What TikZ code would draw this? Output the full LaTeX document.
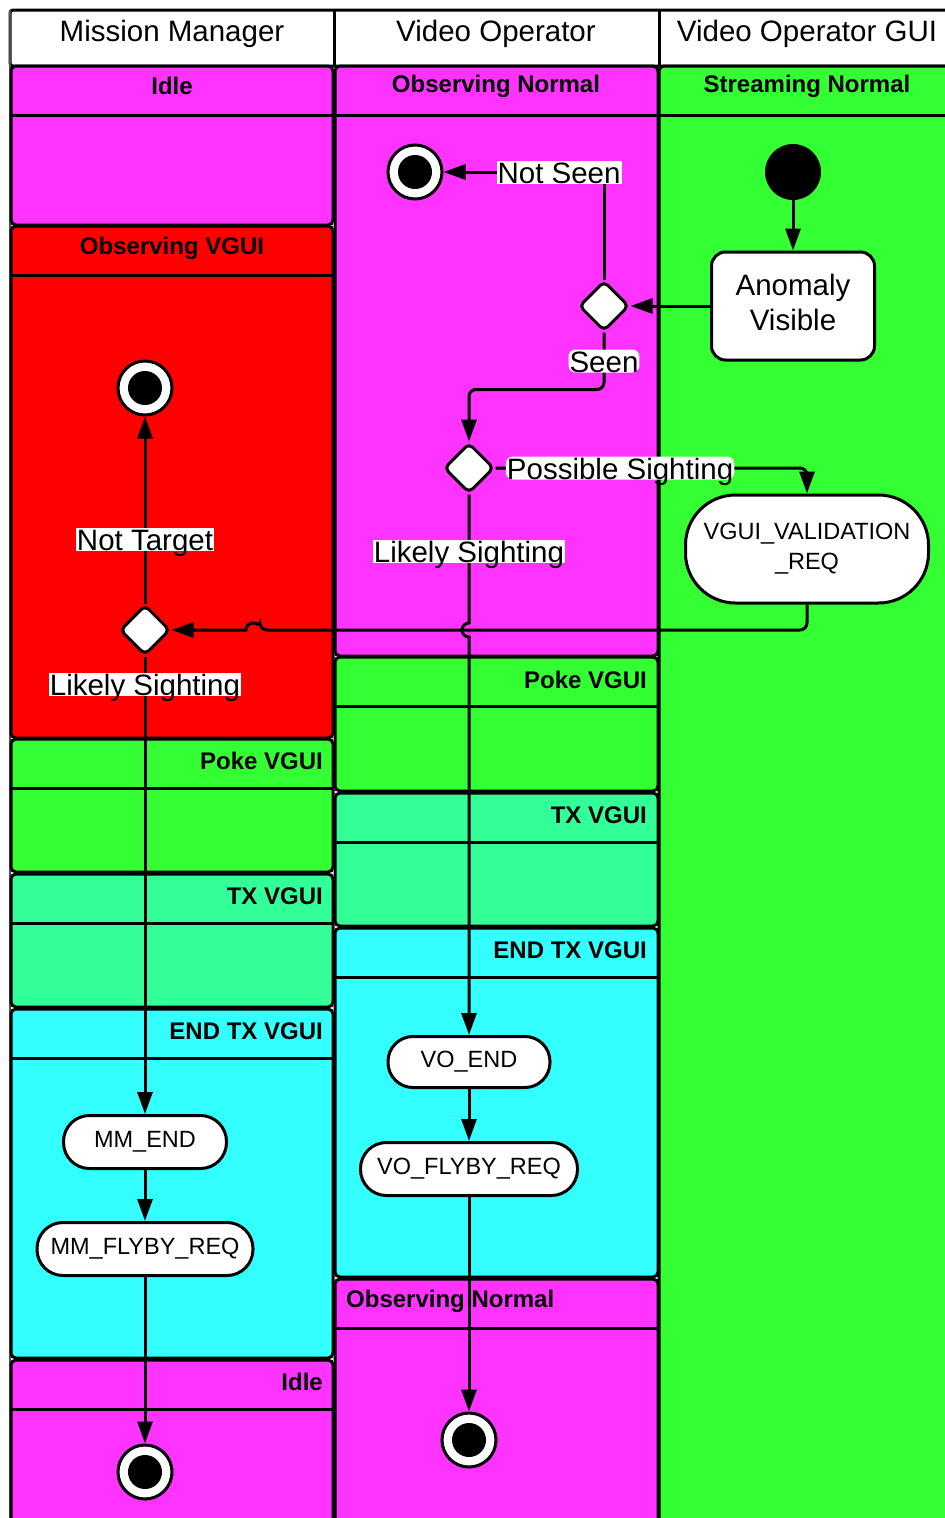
\documentclass[tikz,border=0pt]{standalone}
\usepackage{fontspec}
\setmainfont{Liberation Sans}
\usetikzlibrary{shapes.geometric,arrows.meta}

\definecolor{magentaS}{HTML}{FF33FF}
\definecolor{redS}{HTML}{FF0000}
\definecolor{greenS}{HTML}{33FF33}
\definecolor{springS}{HTML}{33FF99}
\definecolor{cyanS}{HTML}{33FFFF}

% one state band inside a lane: x1, y1, x2, y2, fill colour
\newcommand{\lanestate}[5]{%
  \draw[stateframe, fill=#5] (#1,#2) rectangle (#3,#4);
  \draw[line width=3pt] (#1,#2+49) -- (#3,#2+49);
}

\begin{document}
\begin{tikzpicture}[x=1pt,y=-1pt,
  stateframe/.style={draw=black, line width=3pt, rounded corners=5pt},
  lanetitle/.style={font=\fontsize{29.5}{34}\selectfont, inner sep=0pt},
  statelbl/.style={font=\bfseries\fontsize{24}{28}\selectfont, inner sep=0pt},
  flow/.style={draw=black, line width=3pt, -{Triangle[length=22pt,width=15pt]}},
  edgelbl/.style={fill=white, font=\fontsize{29.5}{34}\selectfont, inner xsep=1pt, inner ysep=0pt, text height=22.5pt, text depth=0.5pt},
  decision/.style={diamond, draw=black, fill=white, line width=3pt, minimum width=50pt, minimum height=50pt, inner sep=0pt, rounded corners=5pt},
  finalst/.style={circle, draw=black, fill=white, line width=3pt, minimum size=54pt, inner sep=0pt,
    path picture={\fill[black] (path picture bounding box.center) circle (17pt);}},
  initst/.style={circle, fill=black, minimum size=56pt, inner sep=0pt},
  action/.style={draw=black, fill=white, line width=3pt, inner sep=0pt, align=center},
  pill/.style={action, rounded corners=26pt, font=\fontsize{23.5}{28}\selectfont, minimum height=53pt}
]
\useasboundingbox (0,0) rectangle (945,1518);
\clip (0,0) rectangle (945,1518);

% lane headers
\draw[line width=3pt, fill=white, rounded corners=3pt] (10,10) rectangle (1000,66);
\draw[line width=3pt] (334,10) -- (334,66);
\draw[line width=3pt] (659,10) -- (659,66);
\node[lanetitle] (hmm) at (172,34) {Mission Manager};
\node[lanetitle] (hvo) at (496,34) {Video Operator};
\node[lanetitle] (hgui) at (807,34) {Video Operator GUI};

% lane frames
\draw[line width=1.8pt, draw=black!70] (10,10) -- (10,1600);

% Mission Manager lane
\lanestate{11}{66}{333}{225}{magentaS}
\node[statelbl] (mm1) at (172,86) {Idle};
\lanestate{11}{226}{333}{738}{redS}
\node[statelbl] (mm2) at (172,248) {Observing VGUI};
\lanestate{11}{739}{333}{872}{greenS}
\node[statelbl, anchor=east] (mm3) at (323,761) {Poke VGUI};
\lanestate{11}{874}{333}{1007}{springS}
\node[statelbl, anchor=east] (mm4) at (323,896) {TX VGUI};
\lanestate{11}{1009}{333}{1358}{cyanS}
\node[statelbl, anchor=east] (mm5) at (323,1031) {END TX VGUI};
\lanestate{11}{1360}{333}{1600}{magentaS}
\node[statelbl, anchor=east] (mm6) at (323,1382) {Idle};

% Video Operator lane
\lanestate{335}{66}{658}{656}{magentaS}
\node[statelbl] (vo1) at (496,86) {Observing Normal};
\lanestate{335}{657}{658}{791}{greenS}
\node[statelbl, anchor=east] (vo2) at (647,680) {Poke VGUI};
\lanestate{335}{793}{658}{926}{springS}
\node[statelbl, anchor=east] (vo3) at (647,815) {TX VGUI};
\lanestate{335}{928}{658}{1277}{cyanS}
\node[statelbl, anchor=east] (vo4) at (647,950) {END TX VGUI};
\lanestate{335}{1279}{658}{1600}{magentaS}
\node[statelbl, anchor=west] (vo5) at (346,1301) {Observing Normal};

% Video Operator GUI lane
\lanestate{659}{66}{1000}{1600}{greenS}
\node[statelbl] (gui1) at (807,86) {Streaming Normal};

% activity nodes
\node[initst] (init) at (793,172) {};
\node[action, rounded corners=14pt, minimum width=163pt, minimum height=108pt] (anom) at (793,306) {};
\node[font=\fontsize{29.5}{35}\selectfont, align=center, inner sep=0pt] (anomtxt) at (793,302) {Anomaly\\Visible};
\node[decision] (dec1) at (604,306) {};
\node[finalst] (fin1) at (415,172) {};
\node[decision] (dec2) at (469,468) {};
\node[action, rounded corners=50pt, minimum width=243pt, minimum height=108pt,
      font=\fontsize{23.5}{30}\selectfont] (vgui) at (807,549) {VGUI\_VALIDATION\\\_REQ};
\node[decision] (dec3) at (145,630) {};
\node[finalst] (fin2) at (145,388) {};
\node[pill, minimum width=163pt] (mmend) at (145,1142) {MM\_END};
\node[pill, minimum width=216pt] (mmfly) at (145,1249) {MM\_FLYBY\_REQ};
\node[finalst] (fin4) at (145,1472) {};
\node[pill, minimum width=162pt, minimum height=51pt, rounded corners=25pt] (voend) at (469,1062) {VO\_END};
\node[pill, minimum width=217pt] (vofly) at (469,1169) {VO\_FLYBY\_REQ};
\node[finalst] (fin3) at (469,1440) {};

% control flow
\draw[flow] (init) -- (anom);
\draw[flow] (anom.west) -- (dec1.east);
\draw[flow] (dec1.north) |- node[edgelbl, pos=0.64] (lnotseen) {Not Seen} (fin1);
\draw[flow, rounded corners=7pt] (dec1.south) -- node[edgelbl] (lseen) {Seen} ++(0,57) -| (dec2.north);
\draw[flow, rounded corners=7pt] (dec2.east) -| node[edgelbl, pos=0.2] (lposs) {Possible Sighting} (vgui.north);
\draw[flow, rounded corners=7pt] (vgui.south) |- (260,630) [sharp corners]
  arc[start angle=0, end angle=180, radius=7pt] -- (dec3.east);
\draw[flow] (dec2.south) -- node[edgelbl, pos=0.44] (llikely1) {Likely Sighting} (469,623)
  arc[start angle=90, end angle=270, radius=7pt] -- (voend.north);
\draw[flow] (voend) -- (vofly);
\draw[flow] (vofly) -- (fin3);
\draw[flow] (dec3.north) -- node[edgelbl, pos=0.34] (lnottarget) {Not Target} (fin2);
\draw[flow] (dec3.south) -- node[edgelbl, pos=0.061] (llikely2) {Likely Sighting} (mmend);
\draw[flow] (mmend) -- (mmfly);
\draw[flow] (mmfly) -- (fin4);
\end{tikzpicture}
\end{document}
